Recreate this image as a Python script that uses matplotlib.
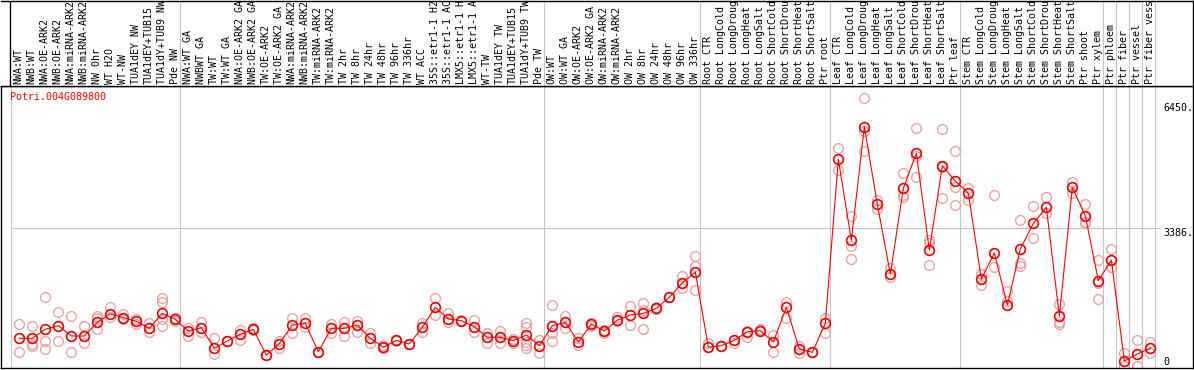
import numpy as np
import matplotlib
matplotlib.use("Agg")
import matplotlib.pyplot as plt
from matplotlib import transforms

# sample names (truncated to 14 chars like the original chart)
names = [
    "NWA:WT", "NWB:WT", "NWA:OE-ARK2", "NWB:OE-ARK2", "NWA:miRNA-ARK2", "NWB:miRNA-ARK2",
    "NW 0hr", "WT H2O", "WT-NW", "TUA1dEY NW", "TUA1dEY+TUB15", "TUA1dY+TUB9 NW", "Pde NW",
    "NWA:WT GA", "NWBWT GA", "TW:WT", "TW:WT GA", "NWA:OE-ARK2 GA", "NWB:OE-ARK2 GA",
    "TW:OE-ARK2", "TW:OE-ARK2 GA", "NWA:miRNA-ARK2", "NWB:miRNA-ARK2", "TW:miRNA-ARK2",
    "TW:miRNA-ARK2", "TW 2hr", "TW 8hr", "TW 24hr", "TW 48hr", "TW 96hr", "TW 336hr",
    "WT ACC", "35S::etr1-1 H2", "35S::etr1-1 AC", "LMX5::etr1-1 H", "LMX5::etr1-1 A",
    "WT-TW", "TUA1dEY TW", "TUA1dEY+TUB15", "TUA1dY+TUB9 TW", "Pde TW",
    "OW:WT", "OW:WT GA", "OW:OE-ARK2", "OW:OE-ARK2 GA", "OW:miRNA-ARK2", "OW:miRNA-ARK2",
    "OW 2hr", "OW 8hr", "OW 24hr", "OW 48hr", "OW 96hr", "OW 336hr",
    "Root CTR", "Root LongCold", "Root LongDroug", "Root LongHeat", "Root LongSalt",
    "Root ShortCold", "Root ShortDrou", "Root ShortHeat", "Root ShortSalt", "Ptr root",
    "Leaf CTR", "Leaf LongCold", "Leaf LongDroug", "Leaf LongHeat", "Leaf LongSalt",
    "Leaf ShortCold", "Leaf ShortDrou", "Leaf ShortHeat", "Leaf ShortSalt", "Ptr leaf",
    "Stem CTR", "Stem LongCold", "Stem LongDroug", "Stem LongHeat", "Stem LongSalt",
    "Stem ShortCold", "Stem ShortDrou", "Stem ShortHeat", "Stem ShortSalt", "Ptr shoot",
    "Ptr xylem",
    "Ptr phloem", "Ptr fiber", "Ptr vessel", "Ptr fiber vess",
]

# first sample index of each group (vertical separators)
group_starts = [0, 13, 41, 53, 63, 73, 84, 85, 86, 87, 88]

means = [
    677, 677, 899, 988, 734, 734, 1071, 1283, 1185, 1096, 924, 1293, 1145,
    857, 938, 431, 611, 776, 899, 266, 544, 1005, 1047, 347, 924, 924, 1005,
    677, 456, 628, 537, 948, 1441, 1153, 1111, 963, 702, 702, 618, 759, 495,
    988, 1071, 586, 1030, 857, 1121, 1251, 1293, 1416, 1687, 2039, 2310,
    463, 495, 628, 840, 865, 586, 1441, 414, 333, 1047,
    5086, 3091, 5889, 3978, 2261, 4372, 5234, 2852, 4928, 4552,
    4249, 2138, 2778, 1497, 2877, 3510, 3904, 1227, 4396, 3690, 2096,
    2606, 118, 291, 431,
]

reps = [
    [1022, 340], [980, 537, 488], [1687, 611, 406], [1318, 611], [1227, 340],
    [980, 554], [1234, 1170, 899], [1456, 1195], [1276, 1160], [1022, 1153],
    [1047, 840], [1663, 1579, 1153, 988], [1100, 1180],
    [938, 741], [1086, 840], [677, 291], [611, 600], [882, 635], [880, 920],
    [266, 260], [618, 446], [1185, 800], [1170, 963], [347, 350], [1022, 800],
    [1086, 734], [1111, 840], [800, 554], [512, 431], [620, 640], [530, 545],
    [1047, 840], [1663, 1251], [1293, 1086], [1100, 1125], [1128, 825],
    [815, 554], [865, 554], [653, 554], [1047, 963, 594, 512, 431], [635, 308],
    [1497, 800, 611], [1234, 924], [677, 512], [1060, 990], [800, 870],
    [1202, 1100], [1473, 1005], [1554, 1374, 899], [1456, 1400], [1690, 1700],
    [2200, 2040, 1909], [2700, 2450, 1867],
    [569, 460], [495, 500], [569, 640], [702, 850], [899, 870], [759, 347],
    [1564, 1170], [488, 308], [330, 340], [1170, 800],
    [5357, 4823], [3690, 2951, 2623], [6589, 5791, 5298], [4084, 3855],
    [2401, 2195], [4741, 4207, 4150], [5850, 5168, 4658], [3098, 3017, 2475],
    [5825, 4889, 4126], [5291, 4411, 3953],
    [4372, 4084], [2250, 2000], [4199, 2441], [1850, 1600], [3591, 2525, 2458],
    [3936, 3140], [4150, 3756], [1522, 1086, 1030], [4520, 4249],
    [3985, 3549, 3510], [2606, 2047, 1638],
    [2877, 2441], [323, 0], [628, 0], [594, 308],
]

gene = "Potri.004G089800"
tick_vals = [6450, 3386, 0]
tick_text = ["6450.", "3386.", "0"]

W, H = 1194, 370
fig = plt.figure(figsize=(W / 100, H / 100), dpi=100)
mono = "DejaVu Sans Mono"
fs = 7.2

# plot area: x 1..1193 px, y 86..368 px (image coords)
ax = fig.add_axes([1 / W, 2 / H, 1192 / W, 282 / H])
top = fig.add_axes([1 / W, 284 / H, 1192 / W, 85.5 / H], sharex=ax)

xs = np.arange(len(names))
ax.set_xlim(-1.408, 90.28)
ax.set_ylim(-54, 6892)
top.set_ylim(0, 1)

for a in (ax, top):
    a.set_xticks([])
    a.set_yticks([])
    for s in a.spines.values():
        s.set_color("black")
        s.set_linewidth(1.0)
top.spines["left"].set_visible(False)
top.axvline(-0.715, color="black", lw=1.0)

gray = "#c4c4c4"
for g in group_starts:
    ax.axvline(g - 0.64, color=gray, lw=0.8, zorder=1)
    if g > 0:
        top.axvline(g - 0.64, color=gray, lw=0.8, zorder=1)
ax.hlines(3386, -0.66, 87.75, color=gray, lw=0.8, zorder=1)

# replicate circles
rx, ry = [], []
for i, r in enumerate(reps):
    rx += [i] * len(r)
    ry += r
ax.plot(rx, ry, "o", ms=7.0, mfc="none", mec="#ee9a9a", mew=0.9, zorder=2, ls="none")

# mean line + markers
ax.plot(xs, means, "-", color="red", lw=0.8, zorder=3)
ax.plot(xs, means, "o", ms=7.0, mfc="none", mec="#e80000", mew=1.2, zorder=4)

ax.text(9 / 1192, (368 - 97) / 282, gene, transform=ax.transAxes, color="red",
        family=mono, fontsize=fs, ha="left", va="center")

trans = transforms.blended_transform_factory(ax.transAxes, ax.transData)
offs = [-3.2, -3.2, 2.8]
for v, t, o in zip(tick_vals, tick_text, offs):
    ax.annotate(t, (1162 / 1192, v), xycoords=trans, xytext=(0, o),
                textcoords="offset points", family=mono, fontsize=fs,
                ha="left", va="center")

ltrans = transforms.blended_transform_factory(top.transData, top.transAxes)
for i, n in enumerate(names):
    top.text(i - 0.05, 2 / 86, n, transform=ltrans, rotation=90, family=mono,
             fontsize=fs, ha="center", va="bottom")

fig.savefig("out.png", dpi=100)
